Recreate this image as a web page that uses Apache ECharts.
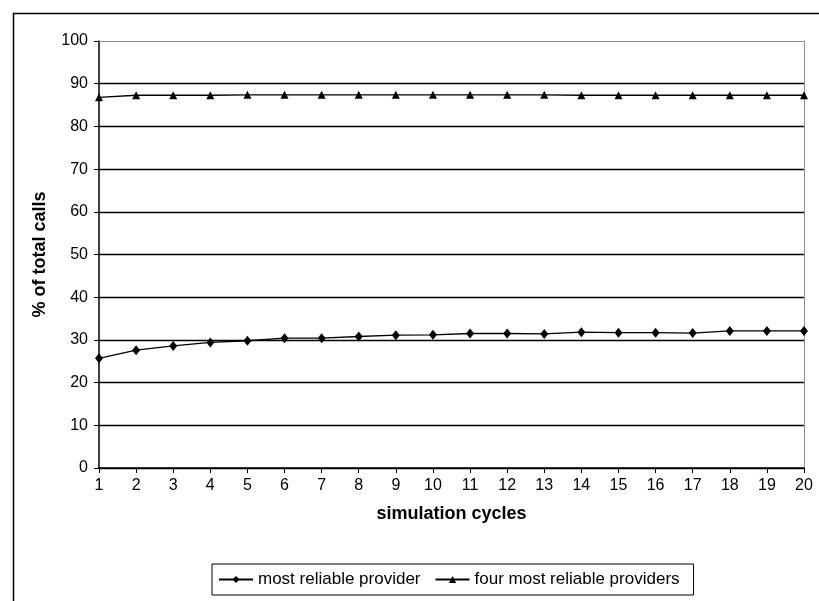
<!DOCTYPE html>
<html>
<head>
<meta charset="utf-8">
<script src="https://cdn.jsdelivr.net/npm/echarts@6/dist/echarts.min.js"></script>
<style>
html,body{margin:0;padding:0;background:#fff;}
#chart{width:819px;height:601px;}
</style>
</head>
<body>
<div id="chart"></div>
<script>
const categories = ['1','2','3','4','5','6','7','8','9','10','11','12','13','14','15','16','17','18','19','20'];
const mostReliable = [25.7,27.6,28.6,29.4,29.8,30.4,30.4,30.8,31.1,31.2,31.5,31.5,31.4,31.8,31.7,31.7,31.6,32.1,32.1,32.1];
const fourMostReliable = [86.8,87.3,87.3,87.3,87.4,87.4,87.4,87.4,87.4,87.4,87.4,87.4,87.4,87.3,87.3,87.3,87.3,87.3,87.3,87.3];
const yTicks = [0,10,20,30,40,50,60,70,80,90,100];
const seriesNames = ['most reliable provider','four most reliable providers'];

const sans = "'Liberation Sans', Arial, sans-serif";

const chart = echarts.init(document.getElementById('chart'), null, {renderer:'canvas'});
chart.setOption({
  backgroundColor:'#fff',
  animation:false,
  graphic:[{
    type:'rect', left:11, top:11, silent:true,
    shape:{width:900, height:700},
    style:{fill:'none', stroke:'#000', lineWidth:1.5}
  }],
  grid:{left:99, right:15, top:41, bottom:133, containLabel:false},
  legend:{
    left:212, top:564,
    data:seriesNames,
    itemWidth:34, itemHeight:9, itemGap:14,
    padding:[7,14,7,6],
    borderColor:'#000', borderWidth:1, borderRadius:0,
    textStyle:{fontFamily:sans, fontSize:17, color:'#000'}
  },
  xAxis:[{
    type:'category', data:categories, boundaryGap:false,
    name:'simulation cycles', nameLocation:'middle', nameGap:37,
    nameTextStyle:{fontFamily:sans, fontSize:18, fontWeight:'bold', color:'#000'},
    axisLine:{lineStyle:{color:'#000', width:1.5}},
    axisTick:{show:true, length:5, lineStyle:{color:'#000'}},
    axisLabel:{fontFamily:sans, fontSize:16, color:'#000', margin:10, interval:0}
  },{
    type:'category', data:categories, boundaryGap:false, position:'top',
    axisLine:{show:true, onZero:false, lineStyle:{color:'#777', width:1, type:'dotted'}},
    axisTick:{show:false}, axisLabel:{show:false}, splitLine:{show:false}
  }],
  yAxis:[{
    type:'value', min:yTicks[0], max:yTicks[yTicks.length-1], interval:10,
    name:'% of total calls', nameLocation:'middle', nameGap:50, nameRotate:90,
    nameTextStyle:{fontFamily:sans, fontSize:18, fontWeight:'bold', color:'#000'},
    axisLine:{show:true, lineStyle:{color:'#000', width:1.5}},
    axisTick:{show:true, length:5, lineStyle:{color:'#000'}},
    axisLabel:{fontFamily:sans, fontSize:16, color:'#000', margin:11},
    splitLine:{show:true, showMaxLine:false, lineStyle:{color:'#000', width:1.3}}
  },{
    type:'value', min:yTicks[0], max:yTicks[yTicks.length-1], interval:10, position:'right',
    axisLine:{show:true, onZero:false, lineStyle:{color:'#777', width:1, type:'dotted'}},
    axisTick:{show:false}, axisLabel:{show:false}, splitLine:{show:false}
  }],
  series:[{
    name:seriesNames[0], type:'line', data:mostReliable,
    symbol:'diamond', symbolSize:[8,10], showAllSymbol:true,
    lineStyle:{color:'#000', width:1.3},
    itemStyle:{color:'#000'}
  },{
    name:seriesNames[1], type:'line', data:fourMostReliable,
    symbol:'triangle', symbolSize:[8,8], showAllSymbol:true,
    lineStyle:{color:'#000', width:1.3},
    itemStyle:{color:'#000'}
  }]
});
</script>
</body>
</html>
